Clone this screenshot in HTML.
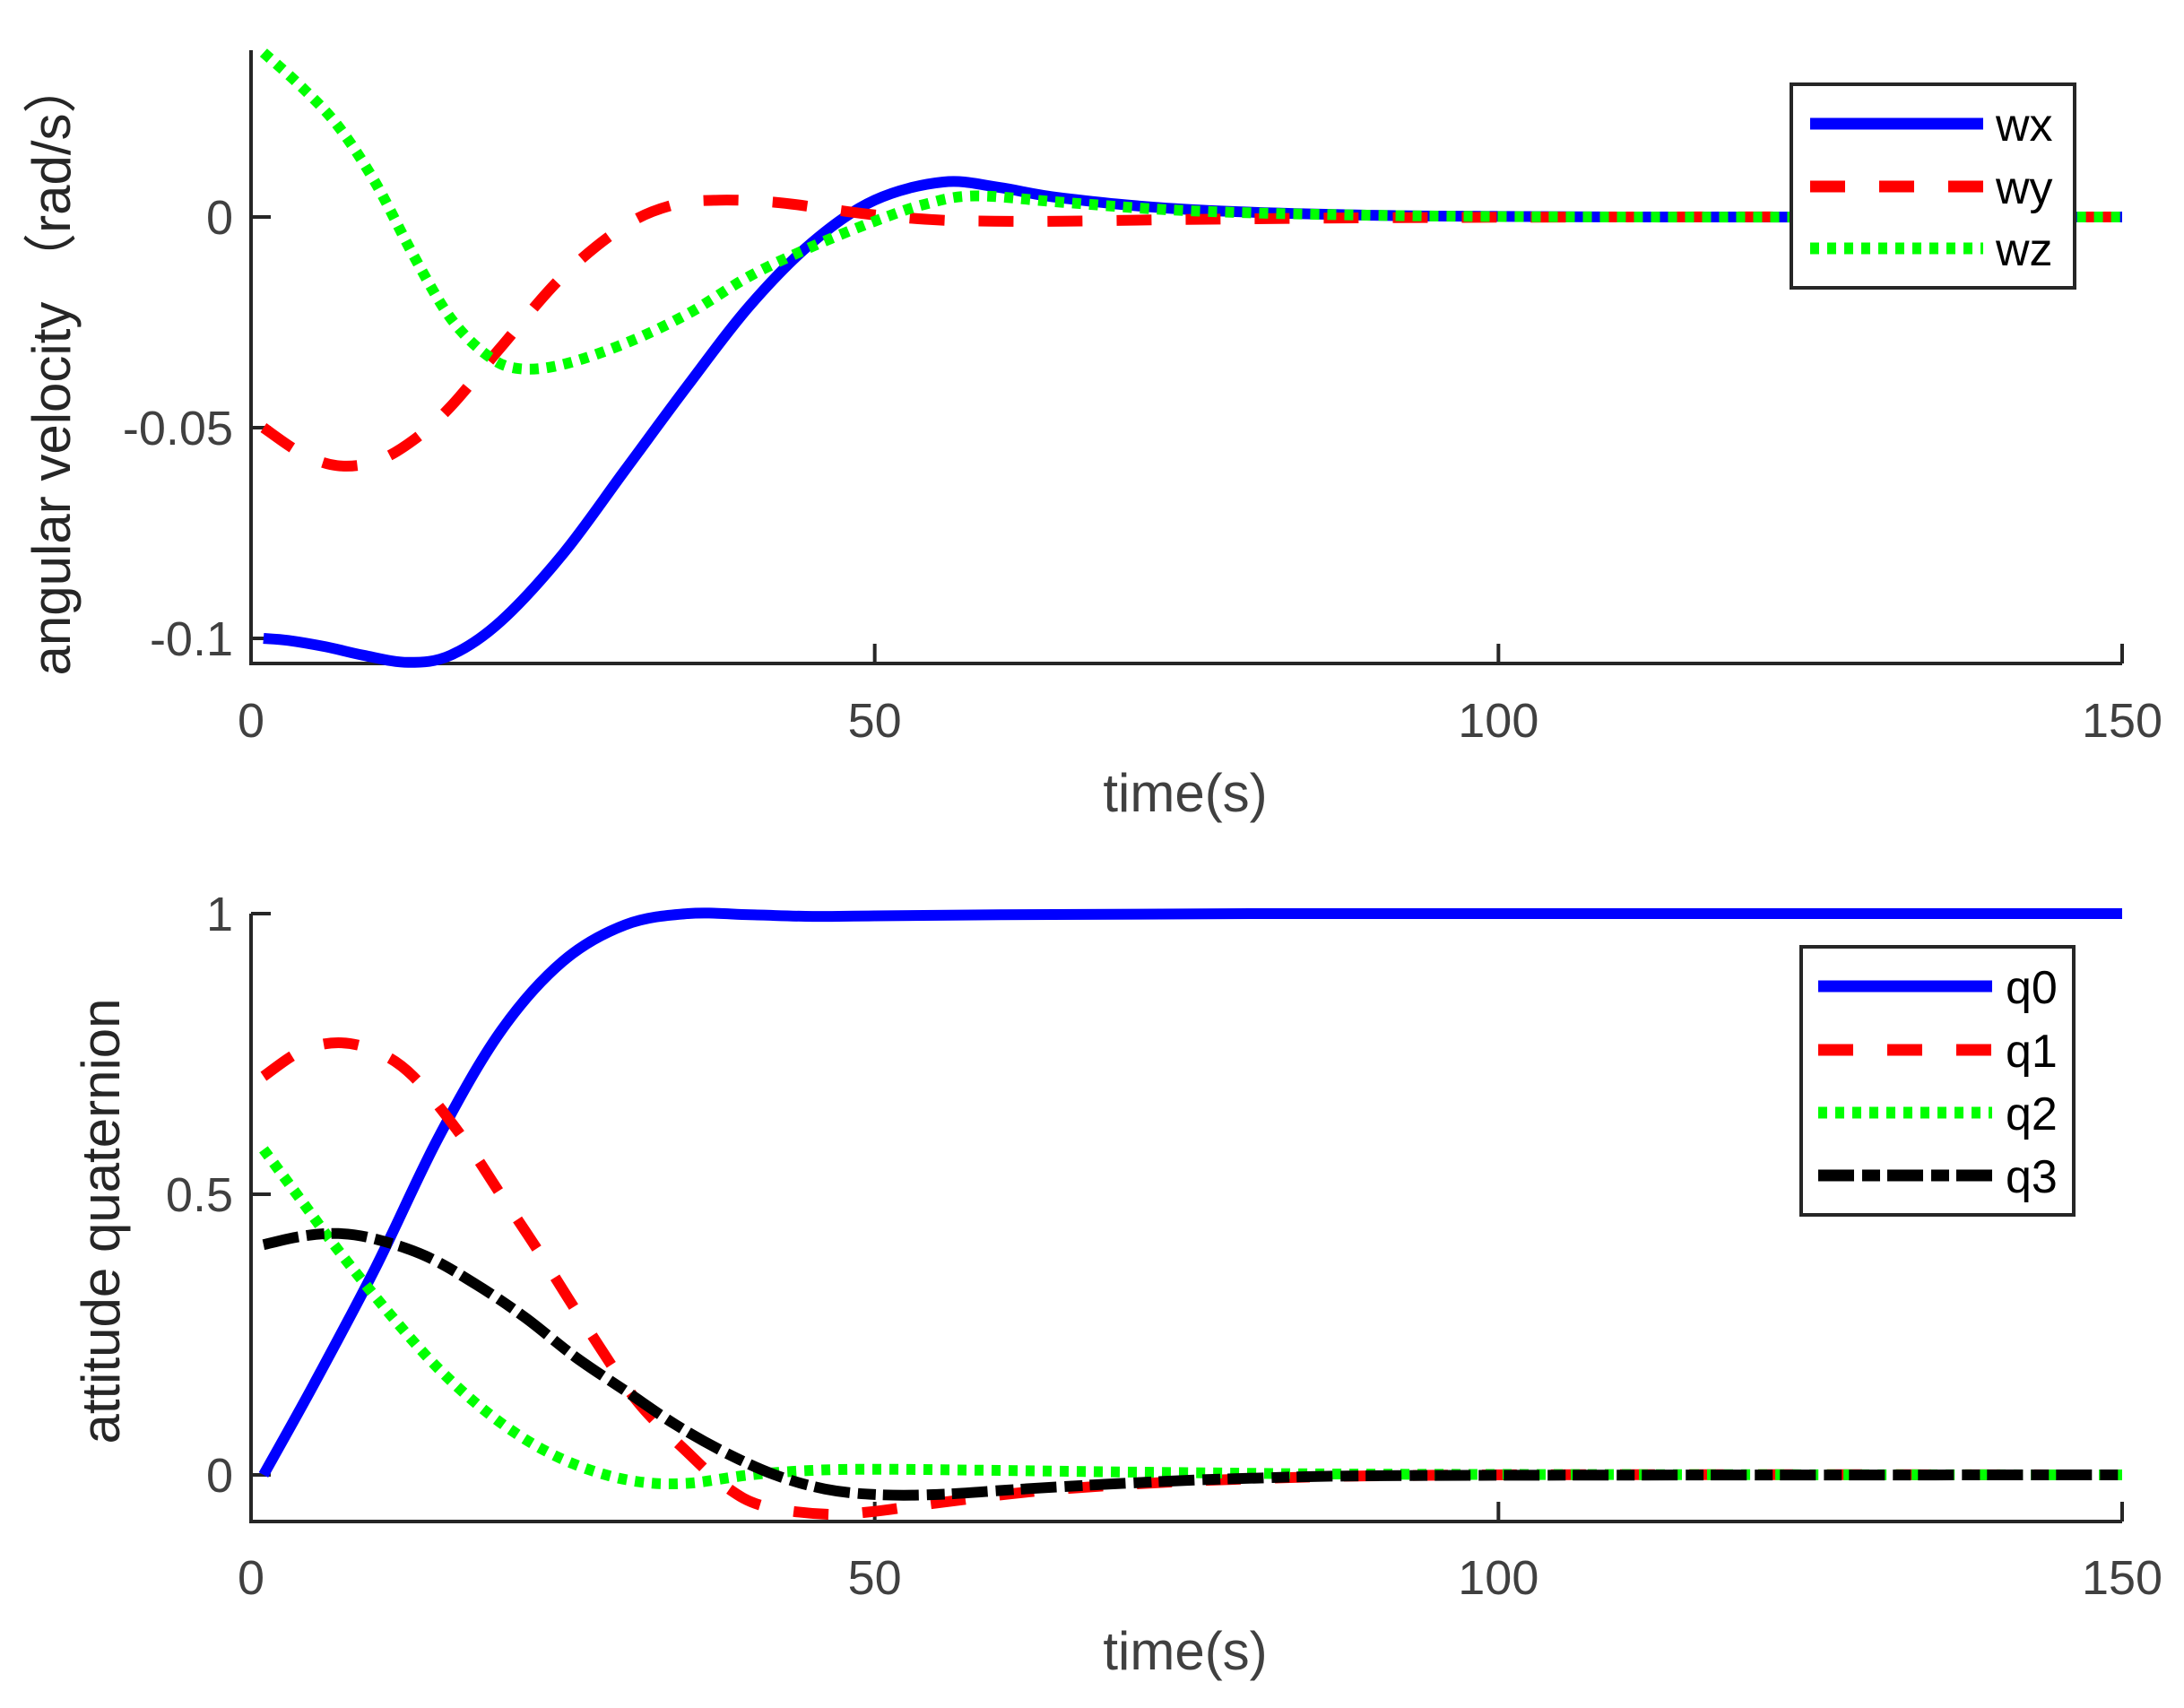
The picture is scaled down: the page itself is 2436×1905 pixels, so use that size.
<!DOCTYPE html>
<html><head><meta charset="utf-8"><style>
html,body{margin:0;padding:0;background:#fff;}
svg{display:block;}
text{font-family:"Liberation Sans",Arial,sans-serif;}
</style></head><body>
<svg id="fig" width="2436" height="1905" viewBox="0 0 2436 1905" xmlns="http://www.w3.org/2000/svg">
<rect x="0" y="0" width="2436" height="1905" fill="#fff"/>
<g id="top"></g>
<g id="bot"></g>
</svg>
<script>
// Shared x data (time, s)
const xTicks = [0, 50, 100, 150];
// Top chart: angular velocity
const wT  = [1, 3, 6, 9, 12.6, 16, 20, 25, 30, 35, 40, 45, 50, 55.5, 60, 65, 75, 90, 110, 150];
const wx  = [-0.1, -0.1005, -0.102, -0.104, -0.1057, -0.104, -0.096, -0.08, -0.06, -0.04, -0.021, -0.006, 0.004, 0.0083, 0.007, 0.0045, 0.0018, 0.0004, 0, 0];
const wyT = [1, 4, 6.9, 10, 13, 16, 20, 25, 30, 34, 37.6, 42, 46, 50, 55, 59.6, 65, 75, 90, 110, 150];
const wy  = [-0.05, -0.056, -0.059, -0.058, -0.053, -0.045, -0.031, -0.014, -0.002, 0.003, 0.004, 0.0035, 0.002, 0.0005, -0.0007, -0.001, -0.001, -0.0006, -0.0002, 0, 0];
const wzT = [1, 4, 7, 10, 13, 16, 19, 21.5, 25, 30, 35, 40, 45, 50, 54, 58, 65, 75, 90, 110, 150];
const wz  = [0.039, 0.031, 0.0215, 0.008, -0.009, -0.024, -0.033, -0.036, -0.035, -0.03, -0.023, -0.014, -0.007, -0.001, 0.003, 0.005, 0.0035, 0.0015, 0.0004, 0, 0];
const topYTicks = [0, -0.05, -0.1];
const topYLabels = ["0", "-0.05", "-0.1"];
// Bottom chart: attitude quaternion
const qT  = [1, 5, 10, 15, 20, 25, 30, 35, 40, 45, 50, 60, 80, 110, 150];
const q0  = [0, 0.16, 0.37, 0.6, 0.79, 0.915, 0.98, 1.0, 0.998, 0.995, 0.996, 0.998, 1.0, 1.0, 1.0];
const q1T = [1, 4, 7, 10, 13, 17, 20, 23, 27, 31, 35, 38, 41, 46, 50, 55, 65, 80, 100, 150];
const q1  = [0.71, 0.755, 0.77, 0.755, 0.71, 0.6, 0.5, 0.4, 0.26, 0.13, 0.04, -0.02, -0.055, -0.07, -0.065, -0.05, -0.025, -0.007, 0, 0];
const q2T = [1, 4, 7, 11, 15, 19, 23, 27, 31, 35, 40, 45, 50, 60, 75, 95, 150];
const q2  = [0.58, 0.49, 0.4, 0.29, 0.19, 0.11, 0.05, 0.01, -0.012, -0.015, 0, 0.008, 0.01, 0.008, 0.004, 0.001, 0];
const q3T = [1, 4, 7, 10, 14, 18, 22, 26, 30, 34, 38, 42, 46, 50, 55, 62, 70, 80, 95, 150];
const q3  = [0.41, 0.425, 0.43, 0.42, 0.39, 0.34, 0.28, 0.21, 0.15, 0.09, 0.04, 0.0, -0.025, -0.035, -0.035, -0.025, -0.015, -0.006, -0.001, 0];
const botYTicks = [1, 0.5, 0];
const botYLabels = ["1", "0.5", "0"];

const NS = "http://www.w3.org/2000/svg";
function mk(parent, tag, attrs, txt){
  const e = document.createElementNS(NS, tag);
  for (const k in attrs) e.setAttribute(k, attrs[k]);
  if (txt !== undefined) e.textContent = txt;
  parent.appendChild(e);
  return e;
}
const X0 = 280, X1 = 2367;
function xs(t){ return X0 + (t - 0) / 150 * (X1 - X0); }

// Catmull-Rom smooth path
function pathFrom(T, V, ys){
  const p = T.map((t,i)=>[xs(t), ys(V[i])]);
  let d = "M" + p[0][0].toFixed(1) + "," + p[0][1].toFixed(1);
  for (let i=0;i<p.length-1;i++){
    const a = p[i-1]||p[i], b=p[i], c=p[i+1], e=p[i+2]||c;
    const c1=[b[0]+(c[0]-a[0])/6, b[1]+(c[1]-a[1])/6];
    const c2=[c[0]-(e[0]-b[0])/6, c[1]-(e[1]-b[1])/6];
    d += "C"+c1[0].toFixed(1)+","+c1[1].toFixed(1)+" "+c2[0].toFixed(1)+","+c2[1].toFixed(1)+" "+c[0].toFixed(1)+","+c[1].toFixed(1);
  }
  return d;
}
const STY = {
  solid:{stroke:"#0000ff", dash:"none"},
  dash:{stroke:"#ff0000", dash:"39 38"},
  dot:{stroke:"#00ff00", dash:"10 9"},
  dashdot:{stroke:"#000000", dash:"40 9 20 8"}
};

function drawAxes(g, top, bot, ys, yt, yl, labelText, labelX, labelY, xlabY, xlY){
  mk(g,"rect",{x:X0,y:top,width:X1-X0,height:bot-top,fill:"#fff"});
  const ax = mk(g,"path",{d:`M${X0},${top} L${X0},${bot} L${X1},${bot}`,fill:"none",stroke:"#262626","stroke-width":4});
  
  
  yt.forEach((v,i)=>{
    const y = ys(v);
    const tk = mk(g,"line",{x1:X0,y1:y,x2:X0+22,y2:y,stroke:"#262626","stroke-width":4});
    
    
    const tl = mk(g,"text",{x:X0-20,y:y+19,"text-anchor":"end","font-size":54,fill:"#404040"},yl[i]);
    
    
  });
  xTicks.forEach(v=>{
    const x = xs(v);
    const tk = mk(g,"line",{x1:x,y1:bot,x2:x,y2:bot-22,stroke:"#262626","stroke-width":4});
    
    
    const tl = mk(g,"text",{x:x,y:xlY,"text-anchor":"middle","font-size":54,fill:"#404040"},String(v));
    
    
  });
  const xl = mk(g,"text",{x:1322,y:xlabY,"text-anchor":"middle","font-size":60,fill:"#404040"},"time(s)");
  
  
  const yl2 = mk(g,"text",{x:0,y:0,"text-anchor":"middle","font-size":60,fill:"#262626",transform:`translate(${labelX},${labelY}) rotate(-90)`},labelText);
  
  
}
function series(g, T, V, ys, sty, name){
  const s = STY[sty];
  const p = mk(g,"path",{d:pathFrom(T,V,ys),fill:"none",stroke:s.stroke,"stroke-width":12,"stroke-dasharray":s.dash,"stroke-linejoin":"round"});
  
  
}
function legend(g, bx, by, bw, bh, lx0, lx1, tx, entries){
  const box = mk(g,"rect",{x:bx,y:by,width:bw,height:bh,fill:"#fff",stroke:"#262626","stroke-width":4});
  
  
  entries.forEach(e=>{
    const s = STY[e[2]];
    const l = mk(g,"line",{x1:lx0,y1:e[1],x2:lx1,y2:e[1],stroke:s.stroke,"stroke-width":13,"stroke-dasharray":s.dash});
    
    
    const t = mk(g,"text",{x:tx,y:e[1]+19,"font-size":52,fill:"#000"},e[0]);
    
    
  });
}

// Top
const gt = document.getElementById("top");
const ysT = v => 242 + (0 - v) / 0.05 * 235;
drawAxes(gt, 56, 740, ysT, topYTicks, topYLabels, "angular velocity （rad/s）", 78, 410, 905, 822);
const clipT = mk(gt,"clipPath",{id:"ct"}); mk(clipT,"rect",{x:X0,y:40,width:X1-X0+6,height:706});
const st = mk(gt,"g",{"clip-path":"url(#ct)"});
series(st, wT, wx, ysT, "solid", "series-wx");
series(st, wyT, wy, ysT, "dash", "series-wy");
series(st, wzT, wz, ysT, "dot", "series-wz");
legend(gt, 1998, 94, 316, 227, 2019, 2212, 2226, [["wx",138,"solid"],["wy",208,"dash"],["wz",277,"dot"]]);

// Bottom
const gb = document.getElementById("bot");
const ysB = v => 1645 - v / 0.5 * 313;
drawAxes(gb, 1019, 1697, ysB, botYTicks, botYLabels, "attitude quaternion", 133, 1362, 1862, 1778);
const clipB = mk(gb,"clipPath",{id:"cb"}); mk(clipB,"rect",{x:X0,y:1000,width:X1-X0+6,height:700});
const sb = mk(gb,"g",{"clip-path":"url(#cb)"});
series(sb, qT, q0, ysB, "solid", "series-q0");
series(sb, q1T, q1, ysB, "dash", "series-q1");
series(sb, q2T, q2, ysB, "dot", "series-q2");
series(sb, q3T, q3, ysB, "dashdot", "series-q3");
legend(gb, 2009, 1056, 304, 299, 2028, 2222, 2237, [["q0",1100,"solid"],["q1",1171,"dash"],["q2",1241,"dot"],["q3",1311,"dashdot"]]);
</script>
</body></html>
